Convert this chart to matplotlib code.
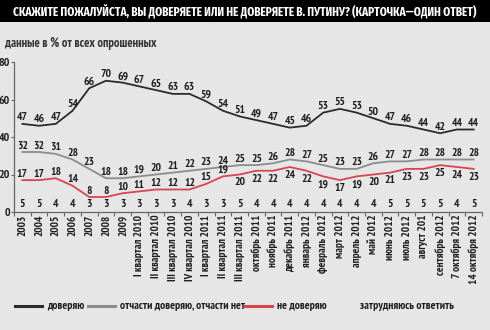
import matplotlib
matplotlib.use('Agg')
import matplotlib.pyplot as plt
import numpy as np

plt.rcParams['font.family'] = ['PT Sans Narrow', 'DejaVu Sans']
plt.rcParams['font.weight'] = 'bold'

periods = ['2003', '2004', '2005', '2006', '2007', '2008', '2009',
           'I квартал 2010', 'II квартал 2010', 'III квартал 2010', 'IV квартал 2010',
           'I квартал 2011', 'II квартал 2011', 'III квартал 2011',
           'октябрь 2011', 'ноябрь 2011', 'декабрь 2011', 'январь 2012',
           'февраль 2012', 'март 2012', 'апрель 2012', 'май 2012', 'июнь 2012',
           'июль 2012', 'август 201', 'сентябрь 2012', '7 октября 2012', '14 октября 2012']
trust = [47, 46, 47, 54, 66, 70, 69, 67, 65, 63, 63, 59, 54, 51,
         49, 47, 45, 46, 53, 55, 53, 50, 47, 46, 44, 42, 44, 44]
partly = [32, 32, 31, 28, 23, 18, 18, 19, 20, 21, 22, 23, 24, 25,
          25, 26, 28, 27, 25, 23, 23, 26, 27, 27, 28, 28, 28, 28]
distrust = [17, 17, 18, 14, 8, 8, 10, 11, 12, 12, 12, 15, 19, 20,
            22, 22, 24, 22, 19, 17, 19, 20, 21, 23, 23, 25, 24, 23]
hard = [5, 5, 4, 4, 3, 3, 3, 3, 3, 3, 4, 3, 3, 5,
        4, 4, 4, 4, 4, 4, 4, 4, 5, 5, 5, 5, 4, 5]

bg = '#e6e6e6'
c_trust = '#2b2b2b'
c_partly = '#8c8c8c'
c_distrust = '#d9454f'
txt = '#1e1e1e'

fig = plt.figure(figsize=(4.9, 3.3), dpi=100, facecolor=bg)

# title bar
fig.patches.append(plt.Rectangle((0, 1 - 22 / 330), 1, 22 / 330, transform=fig.transFigure,
                                 facecolor='black', edgecolor='none'))
fig.text(0.5, 1 - 11.5 / 330, 'СКАЖИТЕ ПОЖАЛУЙСТА, ВЫ ДОВЕРЯЕТЕ ИЛИ НЕ ДОВЕРЯЕТЕ В. ПУТИНУ? (КАРТОЧКА—ОДИН ОТВЕТ)',
         color='white', fontsize=8.8, ha='center', va='center', fontweight='bold',
         family=['Fira Sans Extra Condensed', 'PT Sans Narrow', 'DejaVu Sans'])
fig.text(5 / 490, 1 - 44 / 330, 'данные в % от всех опрошенных', color='#333333',
         fontsize=9, ha='left', va='center')

ax = fig.add_axes([14 / 490, (330 - 212) / 330, (482 - 14) / 490, 150 / 330])
ax.set_facecolor(bg)
x = np.arange(len(periods))

ax.plot(x, trust, color=c_trust, lw=1.3)
ax.plot(x, partly, color=c_partly, lw=1.3)
ax.plot(x, distrust, color=c_distrust, lw=1.3)

fs = 8.3
for i in x:
    ax.annotate(str(trust[i]), (i, trust[i]), xytext=(0, 1), textcoords='offset points',
                ha='center', va='bottom', fontsize=fs, color=txt)
    ax.annotate(str(partly[i]), (i, partly[i]), xytext=(0, 1), textcoords='offset points',
                ha='center', va='bottom', fontsize=fs, color=txt)
    if i < 13:
        ax.annotate(str(distrust[i]), (i, distrust[i]), xytext=(0, 1), textcoords='offset points',
                    ha='center', va='bottom', fontsize=fs, color=txt)
    else:
        ax.annotate(str(distrust[i]), (i, distrust[i]), xytext=(0, -2), textcoords='offset points',
                    ha='center', va='top', fontsize=fs, color=txt)
    ax.text(i, 4.5, str(hard[i]), ha='center', va='center', fontsize=fs, color=txt)

ax.set_xlim(-0.5, len(periods) - 0.5)
ax.set_ylim(0, 80)
ax.set_yticks([0, 20, 40, 60, 80])
ax.tick_params(axis='y', length=2, width=0.8, color='#666666', labelsize=8.5, labelcolor=txt, pad=1)
ax.set_xticks(x)
ax.set_xticklabels(periods, rotation=90, fontsize=8, color=txt)
ax.set_xticks(np.arange(-0.5, len(periods), 1), minor=True)
ax.tick_params(axis='x', which='major', length=0, pad=2)
ax.tick_params(axis='x', which='minor', length=3, width=0.8, color='#666666')
for s in ['top', 'right']:
    ax.spines[s].set_visible(False)
for s in ['left', 'bottom']:
    ax.spines[s].set_color('#666666')
    ax.spines[s].set_linewidth(0.9)

# legend
ly = 24 / 330
legend_items = [(15, 42, c_trust, 'доверяю'), (88, 115, c_partly, 'отчасти доверяю, отчасти нет'),
                (245, 272, c_distrust, 'не доверяю'), (None, 360, None, 'затрудняюсь ответить')]
for x0, x1, col, lab in legend_items:
    if col is not None:
        fig.lines.append(plt.Line2D([x0 / 490, x1 / 490], [ly, ly], transform=fig.transFigure,
                                    color=col, lw=2.2))
        fig.text((x1 + 5) / 490, ly, lab, fontsize=8.3, color=txt, ha='left', va='center')
    else:
        fig.text(x1 / 490, ly, lab, fontsize=8.3, color=txt, ha='left', va='center')

fig.savefig('out.png', dpi=100, facecolor=bg)
